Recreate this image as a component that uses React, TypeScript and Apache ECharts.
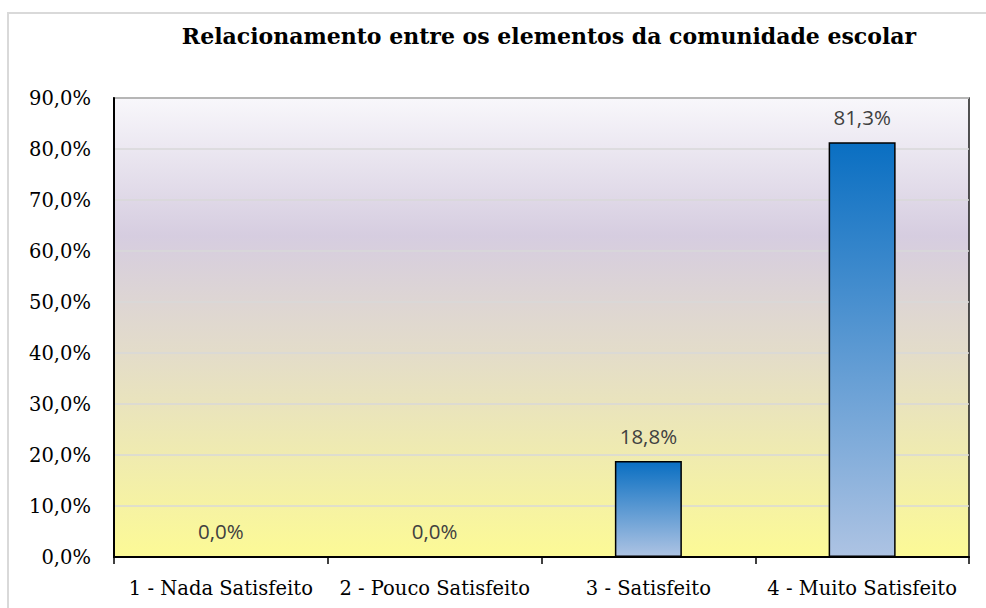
import React, { useEffect, useRef } from "react";
import * as echarts from "echarts";

const title = "Relacionamento entre os elementos da comunidade escolar";
const categories = ["1 - Nada Satisfeito", "2 - Pouco Satisfeito", "3 - Satisfeito", "4 - Muito Satisfeito"];
const values = [0.0, 0.0, 18.8, 81.3];
const yMin = 0;
const yMax = 90;
const yStep = 10;

const fmt = (v: number) => v.toFixed(1).replace(".", ",") + "%";

export default function App() {
  const ref = useRef<HTMLDivElement>(null);
  useEffect(() => {
    if (!ref.current) return;
    const chart = echarts.init(ref.current, null, { renderer: "svg" });
    chart.setOption({
      animation: false,
      backgroundColor: "#ffffff",
      title: {
        text: title,
        left: 544,
        top: 20,
        textAlign: "center",
        textStyle: {
          fontFamily: "DejaVu Serif",
          fontWeight: "bold",
          fontSize: 22,
          color: "#000",
        },
      },
      graphic: [
        {
          type: "rect",
          shape: { x: 8, y: 13, width: 1000, height: 620 },
          style: { fill: "none", stroke: "#d9d9d9", lineWidth: 2 },
          silent: true,
        },
      ],
      grid: {
        left: 114,
        top: 98,
        right: 17,
        bottom: 51,
        show: true,
        borderColor: "#1a1a1a",
        borderWidth: 1.5,
        backgroundColor: new echarts.graphic.LinearGradient(0, 0, 0, 1, [
          { offset: 0, color: "#f8f7fb" },
          { offset: 0.3, color: "#d6cde0" },
          { offset: 0.55, color: "#e3dcca" },
          { offset: 1, color: "#fcfa96" },
        ]),
      },
      xAxis: {
        type: "category",
        data: categories,
        boundaryGap: true,
        axisLine: { show: true, lineStyle: { color: "#000", width: 2 } },
        axisTick: { show: true, length: 7, lineStyle: { color: "#000", width: 1.5 } },
        axisLabel: {
          margin: 21,
          fontFamily: "DejaVu Serif",
          fontSize: 19.5,
          color: "#000",
          interval: 0,
        },
      },
      yAxis: {
        type: "value",
        min: yMin,
        max: yMax,
        interval: yStep,
        axisLine: { show: true, lineStyle: { color: "#000", width: 2 } },
        axisTick: { show: false },
        splitLine: { show: true, lineStyle: { color: "#d9d9d9", width: 1.5 } },
        axisLabel: {
          margin: 23,
          fontFamily: "DejaVu Serif",
          fontSize: 19.5,
          color: "#000",
          formatter: (v: number) => fmt(v),
        },
      },
      series: [
        {
          type: "bar",
          data: values,
          barWidth: 67,
          itemStyle: {
            color: new echarts.graphic.LinearGradient(0, 0, 0, 1, [
              { offset: 0, color: "#0a6fc2" },
              { offset: 1, color: "#adc3e3" },
            ]),
            borderColor: "#000",
            borderWidth: 1.5,
          },
          label: {
            show: true,
            position: "top",
            distance: 15,
            fontFamily: "Open Sans",
            fontSize: 20.5,
            color: "#404040",
            formatter: (p: any) => fmt(p.value),
          },
        },
      ],
    });
    return () => chart.dispose();
  }, []);
  return (
    <div
      ref={ref}
      style={{ position: "fixed", left: 0, top: 0, width: 986, height: 608 }}
    />
  );
}
